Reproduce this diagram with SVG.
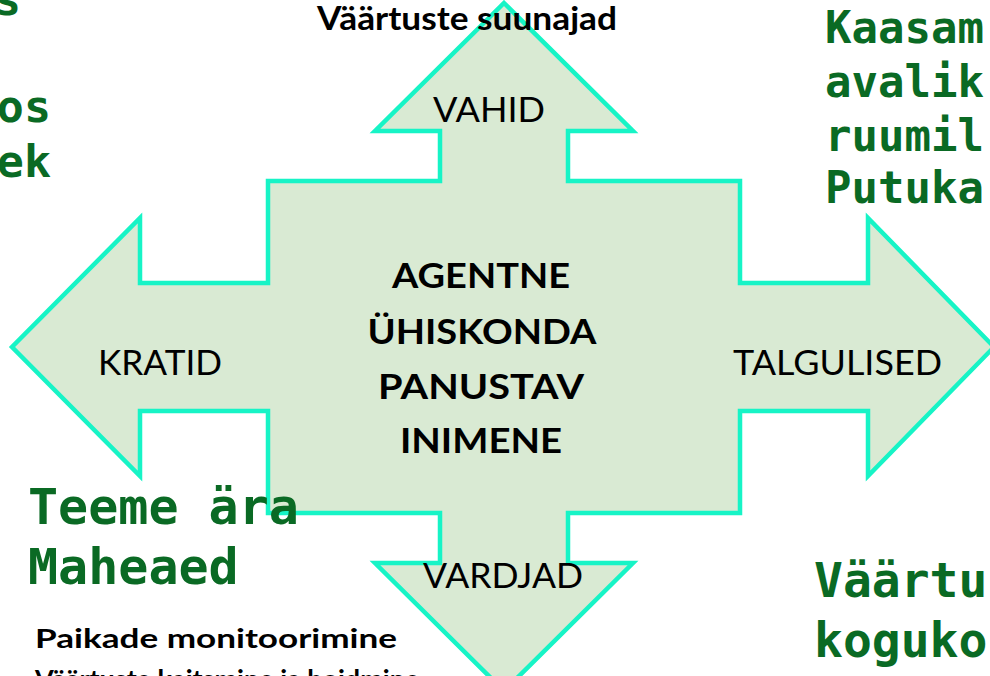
<svg xmlns="http://www.w3.org/2000/svg" width="990" height="676" viewBox="0 0 990 676">
  <style>
    .shape { fill: #D9EAD3; stroke: #17F4C6; stroke-width: 4.5; stroke-linejoin: miter; }
    .lbl { font-family: Lato, "Open Sans", "Liberation Sans", sans-serif; fill: #000; font-size: 35px; }
    .bold { font-family: Lato, "Open Sans", "Liberation Sans", sans-serif; fill: #000; font-weight: bold; }
    .mono { font-family: "DejaVu Sans Mono", "Liberation Mono", monospace; font-weight: bold; fill: #0A6A24; }
  </style>
  <rect width="990" height="676" fill="#ffffff"/>

  <g id="cross-arrow">
    <polygon class="shape" points="504,3 633,131 568,131 568,181 740,181 740,283 868,283 868,218 994,347 868,476 868,411 740,411 740,513 568,513 568,563 633,563 504,691 375,563 440,563 440,513 268,513 268,411 140,411 140,476 12,347 140,218 140,283 268,283 268,181 440,181 440,131 375,131"/>
  </g>

  <g id="center">
    <text class="bold" font-size="35" text-anchor="middle" x="481" y="288" textLength="178" lengthAdjust="spacingAndGlyphs">AGENTNE</text>
    <text class="bold" font-size="35" text-anchor="middle" x="482" y="344" textLength="229" lengthAdjust="spacingAndGlyphs">ÜHISKONDA</text>
    <text class="bold" font-size="35" text-anchor="middle" x="481" y="399" textLength="206" lengthAdjust="spacingAndGlyphs">PANUSTAV</text>
    <text class="bold" font-size="35" text-anchor="middle" x="481" y="453" textLength="162" lengthAdjust="spacingAndGlyphs">INIMENE</text>
  </g>

  <g id="arm-up"><text class="lbl" x="433" y="122" textLength="112" lengthAdjust="spacingAndGlyphs">VAHID</text></g>
  <g id="arm-left"><text class="lbl" x="98" y="375" textLength="124" lengthAdjust="spacingAndGlyphs">KRATID</text></g>
  <g id="arm-right"><text class="lbl" x="733" y="375" textLength="209" lengthAdjust="spacingAndGlyphs">TALGULISED</text></g>
  <g id="arm-down"><text class="lbl" x="423" y="588" textLength="160" lengthAdjust="spacingAndGlyphs">VARDJAD</text></g>

  <g id="title">
    <text class="bold" font-size="32" x="317" y="30" textLength="300" lengthAdjust="spacingAndGlyphs">Väärtuste suunajad</text>
  </g>

  <g id="note-top-left" class="mono" font-size="45" text-anchor="end">
    <text x="21" y="15">s</text>
    <text x="51" y="122">os</text>
    <text x="51" y="177">ek</text>
  </g>

  <g id="note-top-right" class="mono" font-size="44">
    <text x="825" y="43">Kaasam</text>
    <text x="825" y="97">avalik</text>
    <text x="825" y="151">ruumil</text>
    <text x="825" y="203">Putuka</text>
  </g>

  <g id="note-bottom-left" class="mono" font-size="50">
    <text x="28" y="524">Teeme ära</text>
    <text x="28" y="584">Maheaed</text>
  </g>

  <g id="note-bottom-right" class="mono" font-size="48">
    <text x="814" y="597">Väärtu</text>
    <text x="814" y="657">koguko</text>
  </g>

  <g id="note-bottom-text">
    <text class="bold" font-size="27" x="35" y="648" textLength="362" lengthAdjust="spacingAndGlyphs">Paikade monitoorimine</text>
    <text class="bold" font-size="27" x="35" y="689">Väärtuste kaitsmine ja hoidmine</text>
  </g>
</svg>
